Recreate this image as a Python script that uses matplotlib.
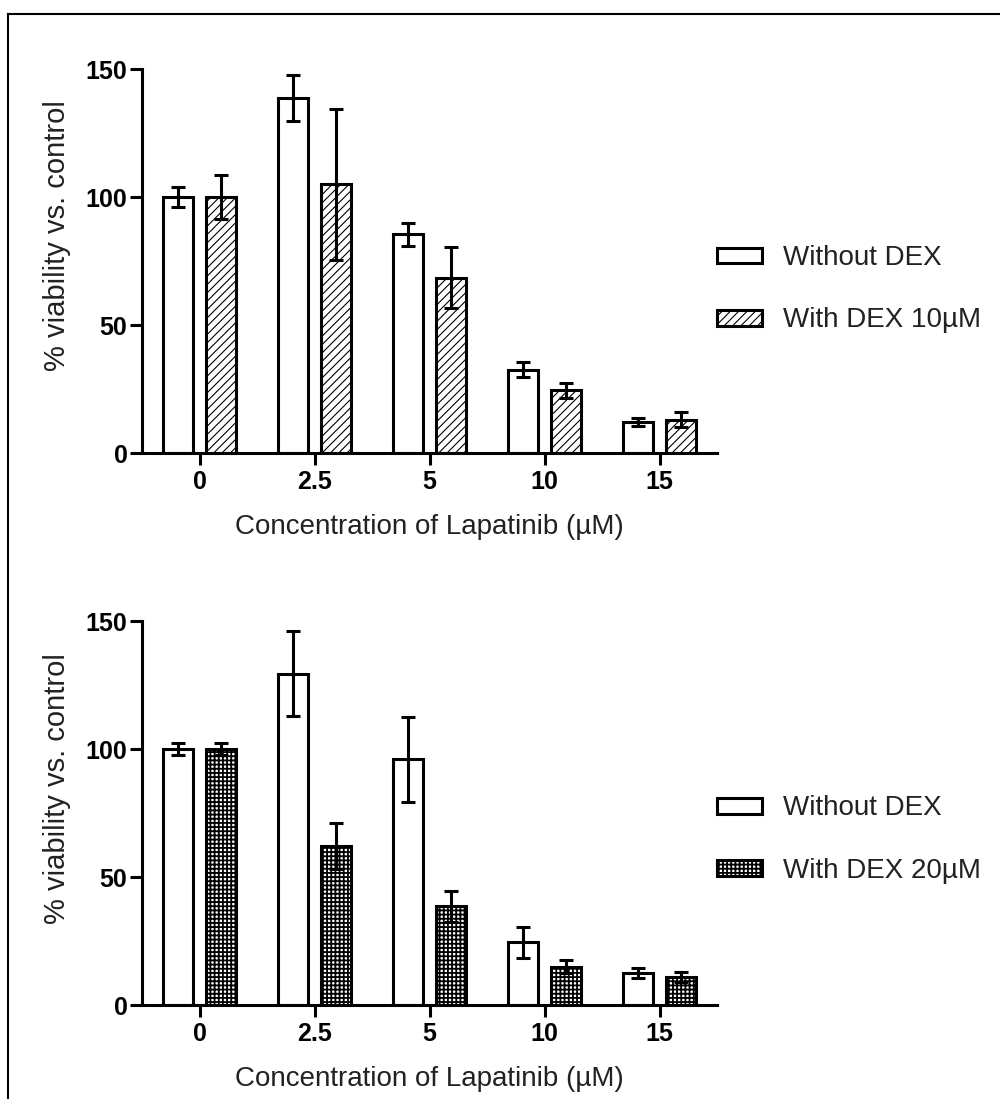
import matplotlib
matplotlib.use("Agg")
import matplotlib.pyplot as plt
import numpy as np
from matplotlib.patches import Rectangle
from matplotlib.lines import Line2D

plt.rcParams['font.family'] = ['Liberation Sans', 'DejaVu Sans']

categories = ["0", "2.5", "5", "10", "15"]

# Top panel
top_without = [100, 138.5, 85.5, 32.5, 12]
top_without_err = [4, 9, 4.5, 3, 1.5]
top_with = [100, 105, 68.5, 24.5, 13]
top_with_err = [8.5, 29.5, 12, 3, 3]
top_labels = ["Without DEX", "With DEX 10\u00b5M"]

# Bottom panel
bot_without = [100, 129.5, 96, 24.5, 12.5]
bot_without_err = [2.5, 16.5, 16.5, 6, 2]
bot_with = [100, 62, 38.5, 15, 11]
bot_with_err = [2.5, 9, 6, 2.5, 2]
bot_labels = ["Without DEX", "With DEX 20\u00b5M"]

fig = plt.figure(figsize=(10, 10.99), dpi=100)
# frame lines (top and left edges)
fig.lines.append(Line2D([0.008, 1.0], [1 - 14 / 1099, 1 - 14 / 1099], transform=fig.transFigure,
                        color='black', linewidth=1.5))
fig.lines.append(Line2D([0.008, 0.008], [0.0, 1 - 14 / 1099], transform=fig.transFigure,
                        color='black', linewidth=1.5))

TXT = '#222222'
W = 0.26
OFF = 0.185
LW = 2.2


def panel(rect, without, werr, withv, wierr, labels, hatch, hlw, legy):
    ax = fig.add_axes(rect)
    x = np.arange(len(categories))
    ax.bar(x - OFF, without, W, facecolor='white', edgecolor='black', linewidth=LW, zorder=2)
    plt.rcParams['hatch.linewidth'] = hlw
    ax.bar(x + OFF, withv, W, facecolor='white', edgecolor='black', linewidth=LW,
           hatch=hatch, zorder=2)
    ax.errorbar(x - OFF, without, yerr=werr, fmt='none', ecolor='black', elinewidth=LW,
                capsize=5, capthick=LW, zorder=3)
    ax.errorbar(x + OFF, withv, yerr=wierr, fmt='none', ecolor='black', elinewidth=LW,
                capsize=5, capthick=LW, zorder=3)
    ax.set_xlim(-0.5, 4.5)
    ax.set_ylim(0, 150)
    ax.set_yticks([0, 50, 100, 150])
    ax.set_xticks(x)
    ax.set_xticklabels(categories)
    for s in ['top', 'right']:
        ax.spines[s].set_visible(False)
    for s in ['left', 'bottom']:
        ax.spines[s].set_linewidth(LW)
    ax.tick_params(axis='both', direction='out', length=8.5, width=LW, labelsize=18)
    ax.tick_params(axis='y', pad=2)
    ax.tick_params(axis='x', pad=4)
    for t in ax.get_xticklabels() + ax.get_yticklabels():
        t.set_fontweight('bold')
    ax.set_ylabel('% viability vs. control', fontsize=21, color=TXT)
    ax.yaxis.set_label_coords(-0.124, 0.565)
    ax.set_xlabel('Concentration of Lapatinib (\u00b5M)', fontsize=20, color=TXT, labelpad=14)
    h1 = Rectangle((0, 0), 1, 1, facecolor='white', edgecolor='black', linewidth=LW)
    h2 = Rectangle((0, 0), 1, 1, facecolor='white', edgecolor='black', linewidth=LW, hatch=hatch)
    leg = ax.legend([h1, h2], labels, loc='center left', bbox_to_anchor=(1.0, legy),
                    frameon=False, fontsize=20, handlelength=1.62, handleheight=0.5,
                    handletextpad=0.75, labelspacing=1.3, borderaxespad=0, borderpad=0)
    for t in leg.get_texts():
        t.set_color(TXT)
    return ax


panel([0.142, 0.5878, 0.575, 0.3494], top_without, top_without_err, top_with, top_with_err,
      top_labels, '////', 0.8, 0.426)
panel([0.142, 0.0855, 0.575, 0.3494], bot_without, bot_without_err, bot_with, bot_with_err,
      bot_labels, '++++', 1.3, 0.431)

fig.savefig('out.png', dpi=100)
